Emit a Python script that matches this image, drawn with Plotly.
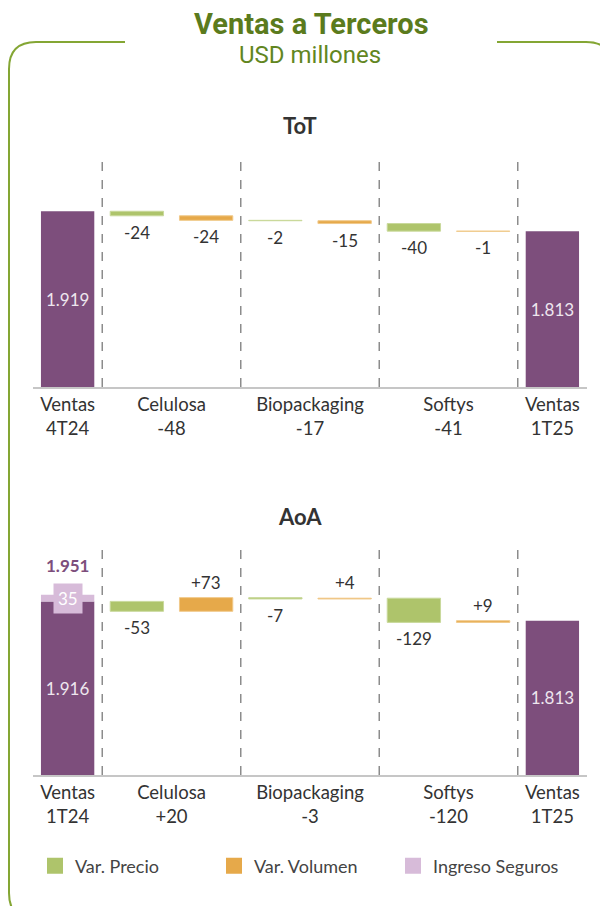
import plotly.graph_objects as go

# ---------------- data ----------------
segments = ["Celulosa", "Biopackaging", "Softys"]

tot_start_label = "Ventas<br>4T24"
tot_end_label = "Ventas<br>1T25"
tot_start = 1919
tot_precio = [-24, -2, -40]
tot_volumen = [-24, -15, -1]
tot_end = 1813

aoa_start_label = "Ventas<br>1T24"
aoa_end_label = "Ventas<br>1T25"
aoa_start = 1916
aoa_seguros = 35
aoa_precio = [-53, -7, -129]
aoa_volumen = [73, 4, 9]
aoa_end = 1813

legend_names = ["Var. Precio", "Var. Volumen", "Ingreso Seguros"]

# ---------------- style ----------------
W, H = 600, 906
PURPLE = "#7d4e7c"
GREEN = "#aec46b"
ORANGE = "#e6a94a"
PINK = "#d7bbd9"
GREEN_L = "#c9d99b"
ORANGE_L = "#f0c98a"
TXT = "#333333"
Y_MIN, Y_MAX = 990, 2190
LABEL_FONT = "Lato"


def fmt_thousands(v):
    return f"{v:,}".replace(",", ".")


def px_x(p):
    return p / W


def px_y(p):
    return 1 - p / H


fig = go.Figure()
annotations = []
shapes = []

panels = [
    dict(name="ToT", start=tot_start, seg=None, precio=tot_precio, volumen=tot_volumen,
         end=tot_end, lstart=tot_start_label, lend=tot_end_label,
         dom=(387, 160), title_y=125, xa="x", ya="y"),
    dict(name="AoA", start=aoa_start, seg=aoa_seguros, precio=aoa_precio, volumen=aoa_volumen,
         end=aoa_end, lstart=aoa_start_label, lend=aoa_end_label,
         dom=(775, 550), title_y=516, xa="x2", ya="y2"),
]

for pi, p in enumerate(panels):
    xa, ya = p["xa"], p["ya"]
    # running waterfall bases
    run = p["start"]
    g_x, g_base, g_y = [], [], []
    o_x, o_base, o_y = [], [], []
    for i in range(len(segments)):
        g_x.append(1 + 2 * i)
        g_base.append(run)
        g_y.append(p["precio"][i])
        run += p["precio"][i]
        o_x.append(2 + 2 * i)
        o_base.append(run)
        o_y.append(p["volumen"][i])
        run += p["volumen"][i]

    # totals
    fig.add_trace(go.Bar(
        x=[0, 7], y=[p["start"] - Y_MIN, p["end"] - Y_MIN], base=[Y_MIN, Y_MIN],
        width=0.77, marker=dict(color=PURPLE, line=dict(width=0)),
        text=[fmt_thousands(p["start"]), fmt_thousands(p["end"])],
        textposition="inside", insidetextanchor="middle", textangle=0,
        textfont=dict(family=LABEL_FONT, size=17, color="#eee6ee"),
        showlegend=False, xaxis=xa, yaxis=ya, hoverinfo="skip"))
    fig.add_trace(go.Bar(
        x=g_x, y=g_y, base=g_base, width=0.77,
        marker=dict(color=GREEN, line=dict(color=GREEN_L, width=1)),
        showlegend=False, xaxis=xa, yaxis=ya, hoverinfo="skip"))
    fig.add_trace(go.Bar(
        x=o_x, y=o_y, base=o_base, width=0.77,
        marker=dict(color=ORANGE, line=dict(color=ORANGE_L, width=1)),
        showlegend=False, xaxis=xa, yaxis=ya, hoverinfo="skip"))

    if p["seg"] is not None:
        fig.add_trace(go.Bar(
            x=[0], y=[p["seg"]], base=[p["start"]], width=0.77,
            marker=dict(color=PINK, line=dict(width=0)),
            showlegend=False, xaxis=xa, yaxis=ya, hoverinfo="skip"))
        annotations.append(dict(
            x=0, y=p["start"] + p["seg"] / 2, xref=xa, yref=ya, text=str(p["seg"]),
            showarrow=False, bgcolor=PINK, borderpad=4,
            font=dict(family=LABEL_FONT, size=17, color="white")))
        annotations.append(dict(
            x=0, y=p["start"] + p["seg"], xref=xa, yref=ya,
            text="<b>" + fmt_thousands(p["start"] + p["seg"]) + "</b>",
            showarrow=False, yanchor="bottom", yshift=17,
            font=dict(family=LABEL_FONT, size=17, color=PURPLE)))

    # value labels
    for xs, bs, ys in [(g_x, g_base, g_y), (o_x, o_base, o_y)]:
        for xv, bv, yv in zip(xs, bs, ys):
            end = bv + yv
            if yv < 0:
                annotations.append(dict(
                    x=xv, y=end, xref=xa, yref=ya, text=f"{yv:+d}", showarrow=False,
                    yanchor="top", yshift=-4,
                    font=dict(family=LABEL_FONT, size=17, color=TXT)))
            else:
                annotations.append(dict(
                    x=xv, y=end, xref=xa, yref=ya, text=f"{yv:+d}", showarrow=False,
                    yanchor="bottom", yshift=3,
                    font=dict(family=LABEL_FONT, size=17, color=TXT)))

    # separators
    for sx in [0.5, 2.5, 4.5, 6.5]:
        shapes.append(dict(type="line", xref=xa, yref=ya + " domain", x0=sx, x1=sx, y0=0, y1=1,
                           line=dict(color="#8c8c8c", width=1.5, dash="dash")))

    # panel title
    annotations.append(dict(
        x=0.5, y=px_y(p["title_y"]), xref="paper", yref="paper", text=f"<b>{p['name']}</b>",
        showarrow=False, yanchor="middle",
        font=dict(family=LABEL_FONT, size=22, color=TXT)))

    # axes
    sums = [p["precio"][i] + p["volumen"][i] for i in range(len(segments))]
    ticktext = [p["lstart"]] + [f"{segments[i]}<br>{sums[i]:+d}" for i in range(len(segments))] + [p["lend"]]
    axis_suffix = "" if pi == 0 else "2"
    fig.update_layout(**{
        "xaxis" + axis_suffix: dict(
            domain=[px_x(33), px_x(587)], range=[-0.5, 7.5], anchor=ya,
            showline=True, linecolor="#c6c6c6", linewidth=1.5, showgrid=False, zeroline=False,
            tickmode="array", tickvals=[0, 1.5, 3.5, 5.5, 7], ticktext=ticktext, ticks="",
            tickfont=dict(family=LABEL_FONT, size=18.5, color=TXT), fixedrange=True),
        "yaxis" + axis_suffix: dict(
            domain=[px_y(p["dom"][0]), px_y(p["dom"][1])], range=[Y_MIN, Y_MAX], anchor=xa,
            visible=False, fixedrange=True),
    })

# legend traces
for name, col in zip(legend_names, [GREEN, ORANGE, PINK]):
    fig.add_trace(go.Scatter(
        x=[None], y=[None], mode="markers", name=name,
        marker=dict(symbol="square", size=18, color=col), xaxis="x2", yaxis="y2"))

# main titles
annotations.append(dict(x=px_x(311), y=px_y(24), xref="paper", yref="paper",
                        text="<b>Ventas a Terceros</b>", showarrow=False, yanchor="middle",
                        font=dict(family="Roboto", size=29, color="#5b7b1d")))
annotations.append(dict(x=px_x(310), y=px_y(55), xref="paper", yref="paper",
                        text="USD millones", showarrow=False, yanchor="middle",
                        font=dict(family="Roboto", size=24, color="#62861f")))

# border frame (rounded, open at title)
BORDER = "#84a634"
left_path = (f"M {px_x(125)},{px_y(42)} L {px_x(36)},{px_y(42)} "
             f"Q {px_x(9)},{px_y(42)} {px_x(9)},{px_y(69)} "
             f"L {px_x(9)},{px_y(893)} Q {px_x(9)},{px_y(920)} {px_x(36)},{px_y(920)}")
right_path = (f"M {px_x(497)},{px_y(42)} L {px_x(586)},{px_y(42)} "
              f"Q {px_x(613)},{px_y(42)} {px_x(613)},{px_y(69)} L {px_x(613)},{px_y(920)}")
for pth in [left_path, right_path]:
    shapes.append(dict(type="path", xref="paper", yref="paper", path=pth,
                       line=dict(color=BORDER, width=2)))

fig.update_layout(
    width=W, height=H,
    margin=dict(l=0, r=0, t=0, b=0),
    paper_bgcolor="white", plot_bgcolor="rgba(0,0,0,0)",
    barmode="overlay",
    showlegend=True,
    legend=dict(orientation="h", x=px_x(35), xanchor="left", y=px_y(866), yanchor="middle",
                entrywidth=134, entrywidthmode="pixels",
                font=dict(family=LABEL_FONT, size=18, color="#444444"),
                bgcolor="rgba(0,0,0,0)"),
    annotations=annotations,
    shapes=shapes,
)

fig.write_html("out.html", config={"displayModeBar": False},
               post_script="document.body.style.margin='0';document.body.style.overflow='hidden';")
